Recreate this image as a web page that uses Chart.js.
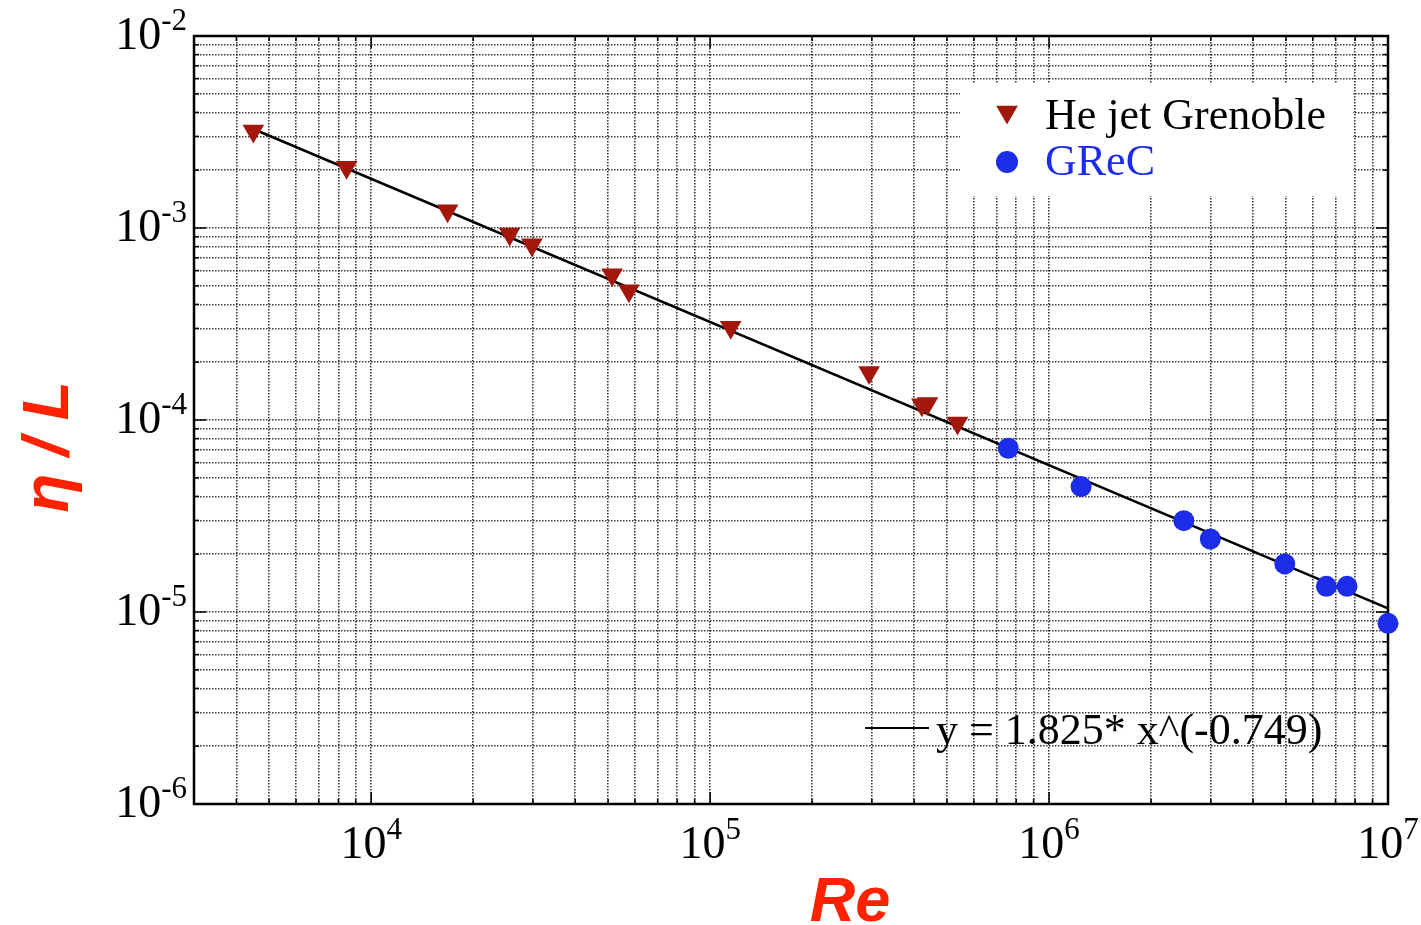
<!DOCTYPE html>
<html>
<head>
<meta charset="utf-8">
<script src="https://cdn.jsdelivr.net/npm/chart.js@4.4.1/dist/chart.umd.min.js"></script>
<style>
  html, body { margin: 0; padding: 0; background: #fff; }
  #wrap { width: 1421px; height: 925px; }
</style>
</head>
<body>
<div id="wrap"><canvas id="etaChart" width="1421" height="925"></canvas></div>
<script>
// eta / L against Re
const heJetRe = [4490, 8460, 16800, 25600, 29800, 51400, 57600, 115000, 294500, 421500, 437800, 537000];
const heJetEta = [3.2e-3, 2.07e-3, 1.23e-3, 9.31e-4, 8.18e-4, 5.71e-4, 4.71e-4, 3.04e-4, 1.77e-4, 1.20e-4, 1.22e-4, 9.66e-5];
const grecRe = [758000, 1243000, 2498000, 2990000, 4960000, 6580000, 7570000, 10000000];
const grecEta = [7.13e-5, 4.5e-5, 2.99e-5, 2.4e-5, 1.78e-5, 1.36e-5, 1.36e-5, 8.73e-6];
// power law fit: straight in log-log, so its two ends are enough
const fitRe = [4560, 10000000];
const fitEta = [3.24e-3, 1.045e-5];

const xDecades = [4, 5, 6, 7];
const yDecades = [-6, -5, -4, -3, -2];
const seriesNames = ['He jet Grenoble', 'GReC'];
const fitLabel = 'y = 1.825* x^(-0.749)';

const RED = 'rgb(163, 22, 10)';
const BLUE = 'rgb(28, 44, 232)';
const TITLE_RED = 'rgb(255, 34, 0)';
const SERIF = '"Liberation Serif", "Times New Roman", serif';
const SANS = '"Liberation Sans", Arial, sans-serif';

const toXY = (xs, ys) => xs.map((v, i) => ({x: v, y: ys[i]}));

// 1..9 x 10^n ticks, so every minor grid line is there
function logTicks(scale) {
  const out = [];
  const lo = Math.floor(Math.log10(scale.min));
  const hi = Math.ceil(Math.log10(scale.max));
  for (let e = lo; e <= hi; e++) {
    for (let k = 1; k <= 9; k++) {
      const v = parseFloat((k * Math.pow(10, e)).toPrecision(3));
      if (v >= scale.min * 0.999 && v <= scale.max * 1.001) out.push({value: v});
    }
  }
  scale.ticks = out;
}

const isDecade = v => Math.abs(Math.log10(v) - Math.round(Math.log10(v))) < 1e-6;

function seg(ctx, x1, y1, x2, y2) {
  ctx.beginPath();
  ctx.moveTo(x1, y1);
  ctx.lineTo(x2, y2);
  ctx.stroke();
}

function powerLabel(ctx, exp, x, y, align) {
  ctx.font = '46px ' + SERIF;
  const base = '10';
  const bw = ctx.measureText(base).width;
  ctx.font = '31px ' + SERIF;
  const sup = String(exp);
  const sw = ctx.measureText(sup).width;
  let left = align === 'right' ? x - bw - sw : x - (bw + sw) / 2;
  ctx.textAlign = 'left';
  ctx.textBaseline = 'alphabetic';
  ctx.font = '46px ' + SERIF;
  ctx.fillText(base, left, y);
  ctx.font = '31px ' + SERIF;
  ctx.fillText(sup, left + bw, y - 19);
}

function triangle(ctx, x, y, r) {
  ctx.beginPath();
  ctx.moveTo(x, y + r);
  ctx.lineTo(x - r * Math.sin(Math.PI / 3), y - r / 2);
  ctx.lineTo(x + r * Math.sin(Math.PI / 3), y - r / 2);
  ctx.closePath();
  ctx.fill();
}

const paperPlugin = {
  id: 'paperLabels',
  beforeDatasetsDraw(chart) {
    const {ctx, chartArea: a, scales: {x, y}} = chart;
    ctx.save();
    ctx.strokeStyle = '#000';
    ctx.lineWidth = 1.5;
    x.ticks.forEach(t => {
      const px = x.getPixelForValue(t.value);
      const len = isDecade(t.value) ? 12 : 5;
      seg(ctx, px, a.top, px, a.top + len);
      seg(ctx, px, a.bottom, px, a.bottom - len);
    });
    y.ticks.forEach(t => {
      const py = y.getPixelForValue(t.value);
      const len = isDecade(t.value) ? 12 : 5;
      seg(ctx, a.left, py, a.left + len, py);
      seg(ctx, a.right, py, a.right - len, py);
    });
    ctx.lineWidth = 2.5;
    ctx.strokeRect(a.left, a.top, a.right - a.left, a.bottom - a.top);
    ctx.restore();
  },
  afterDraw(chart) {
    const {ctx, chartArea: a, scales: {x, y}} = chart;
    ctx.save();
    ctx.fillStyle = '#000';

    // tick labels
    xDecades.forEach(e => powerLabel(ctx, e, x.getPixelForValue(Math.pow(10, e)), 858, 'center'));
    yDecades.forEach(e => powerLabel(ctx, e, 187, y.getPixelForValue(Math.pow(10, e)) + 13, 'right'));

    // axis titles
    ctx.fillStyle = TITLE_RED;
    ctx.font = 'italic bold 63px ' + SANS;
    ctx.textAlign = 'center';
    ctx.textBaseline = 'alphabetic';
    ctx.fillText('Re', 850, 921);
    ctx.translate(68, 447);
    ctx.rotate(-Math.PI / 2);
    ctx.font = 'italic bold 64px ' + SANS;
    ctx.fillText('\u03B7 / L', 0, 0);
    ctx.setTransform(1, 0, 0, 1, 0, 0);

    // legend box
    ctx.fillStyle = '#fff';
    ctx.fillRect(960, 84, 393, 112);
    ctx.fillStyle = RED;
    triangle(ctx, 1007, 112, 12.5);
    ctx.fillStyle = BLUE;
    ctx.beginPath();
    ctx.arc(1007, 162, 11, 0, Math.PI * 2);
    ctx.fill();
    ctx.font = '44px ' + SERIF;
    ctx.textAlign = 'left';
    ctx.fillStyle = '#000';
    ctx.fillText(seriesNames[0], 1045, 129);
    ctx.fillStyle = BLUE;
    ctx.fillText(seriesNames[1], 1045, 175);

    // fit label
    ctx.strokeStyle = '#000';
    ctx.lineWidth = 2;
    seg(ctx, 865, 728, 929, 728);
    ctx.fillStyle = '#000';
    ctx.font = '44px ' + SERIF;
    ctx.fillText(fitLabel, 936, 744);
    ctx.restore();
  }
};

const gridStyle = {color: 'rgba(25, 25, 25, 0.85)', lineWidth: 1.6, drawTicks: false};

new Chart(document.getElementById('etaChart'), {
  type: 'scatter',
  data: {
    datasets: [
      {
        label: seriesNames[0],
        data: toXY(heJetRe, heJetEta),
        pointStyle: 'triangle',
        rotation: 180,
        pointRadius: 12.5,
        pointHoverRadius: 12.5,
        backgroundColor: RED,
        borderColor: RED,
        borderWidth: 0,
        clip: false
      },
      {
        label: seriesNames[1],
        data: toXY(grecRe, grecEta),
        pointStyle: 'circle',
        pointRadius: 10.5,
        pointHoverRadius: 10.5,
        backgroundColor: BLUE,
        borderColor: BLUE,
        borderWidth: 0,
        clip: false
      },
      {
        label: fitLabel,
        data: toXY(fitRe, fitEta),
        showLine: true,
        pointRadius: 0,
        borderColor: '#000',
        borderWidth: 2.5,
        clip: false
      }
    ]
  },
  options: {
    responsive: false,
    animation: false,
    devicePixelRatio: 1,
    layout: {padding: {left: 194, top: 36, right: 33, bottom: 121}},
    plugins: {legend: {display: false}, tooltip: {enabled: false}},
    scales: {
      x: {
        type: 'logarithmic',
        min: 3000,
        max: 10000000,
        afterBuildTicks: logTicks,
        ticks: {display: false},
        grid: gridStyle,
        border: {display: false, dash: [1.5, 1.5]}
      },
      y: {
        type: 'logarithmic',
        min: 1e-6,
        max: 1e-2,
        afterBuildTicks: logTicks,
        ticks: {display: false},
        grid: gridStyle,
        border: {display: false, dash: [1.5, 1.5]}
      }
    }
  },
  plugins: [paperPlugin]
});
</script>
</body>
</html>
